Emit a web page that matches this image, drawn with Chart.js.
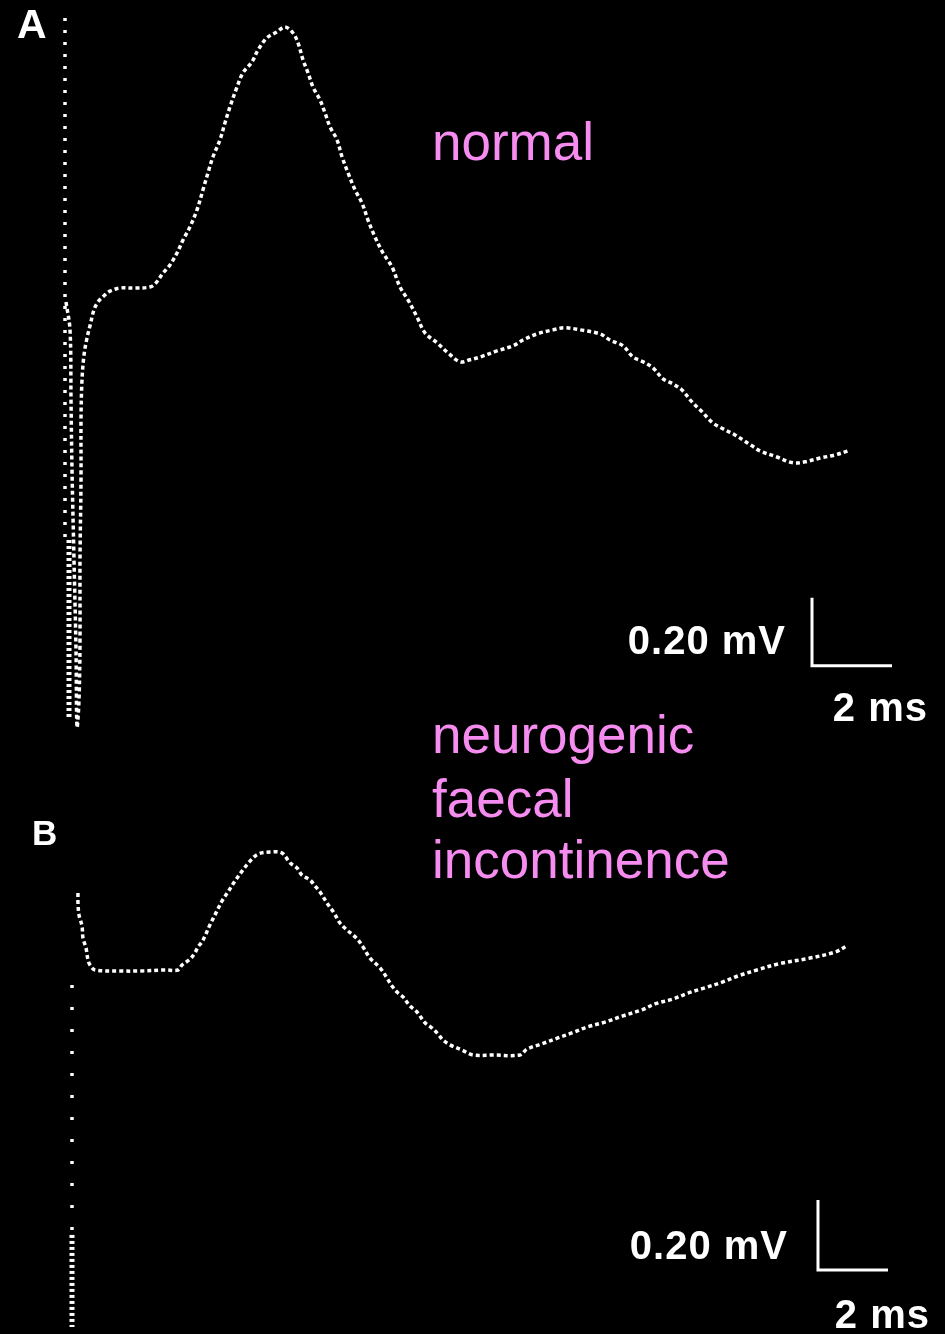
<!DOCTYPE html>
<html>
<head>
<meta charset="utf-8">
<script src="https://cdn.jsdelivr.net/npm/chart.js@4.4.1/dist/chart.umd.min.js"></script>
<style>
  html, body { margin: 0; padding: 0; background: #000; }
  #wrap { position: relative; width: 945px; height: 1334px; }
</style>
</head>
<body>
<div id="wrap"><canvas id="emg"></canvas></div>
<script>
// Trace A (normal) : time in ms after stimulus, amplitude in mV
const timeA = [0.025, 0.125, 0.15, 0.175, 0.225, 0.275, 0.3, 0.35, 0.375, 0.375, 0.4, 0.4, 0.425, 0.475, 0.55, 0.625, 0.725, 0.825, 0.975, 1.125,
  1.375, 1.75, 2.125, 2.275, 2.45, 2.625, 2.8, 2.95, 3.125, 3.3, 3.45, 3.575, 3.7, 3.875, 4.0, 4.125, 4.3, 4.45, 4.675, 4.825,
  5.05, 5.3, 5.5, 5.7, 5.825, 5.95, 6.075, 6.2, 6.375, 6.5, 6.625, 6.8, 6.925, 7.075, 7.25, 7.425, 7.575, 7.75, 7.95, 8.175,
  8.375, 8.575, 8.8, 9.0, 9.3, 9.55, 9.875, 10.125, 10.375, 10.8, 11.2, 11.45, 11.8, 12.2, 12.5, 12.875, 13.375, 13.625, 13.95, 14.2,
  14.45, 14.7, 14.95, 15.2, 15.425, 15.675, 15.925, 16.2, 16.45, 16.75, 16.95, 17.175, 17.375, 17.8, 18.2, 18.5, 18.875, 19.25, 19.575];
const mvA = [-0.006, -0.088, -0.294, -0.5, -0.765, -1.029, -1.256, -1.176, -1.0, -0.765, -0.529, -0.353, -0.235, -0.162, -0.112, -0.076, -0.029, -0.006, 0.012, 0.026,
  0.035, 0.035, 0.038, 0.05, 0.079, 0.103, 0.138, 0.176, 0.215, 0.265, 0.324, 0.374, 0.421, 0.471, 0.521, 0.568, 0.626, 0.668, 0.7, 0.735,
  0.771, 0.788, 0.803, 0.785, 0.756, 0.706, 0.668, 0.626, 0.588, 0.55, 0.509, 0.471, 0.421, 0.374, 0.324, 0.285, 0.235, 0.185, 0.138, 0.097,
  0.038, 0.0, -0.05, -0.097, -0.126, -0.153, -0.182, -0.176, -0.168, -0.15, -0.135, -0.118, -0.1, -0.088, -0.082, -0.088, -0.1, -0.118, -0.135, -0.168,
  -0.182, -0.2, -0.232, -0.247, -0.265, -0.3, -0.329, -0.362, -0.379, -0.397, -0.412, -0.429, -0.444, -0.462, -0.479, -0.476, -0.465, -0.456, -0.444];

// Trace B (neurogenic faecal incontinence)
const timeB = [0.371, 0.371, 0.4, 0.486, 0.514, 0.6, 0.657, 0.714, 0.857, 1.571, 2.143, 2.857, 3.229, 3.343, 3.571, 3.714, 3.8, 3.914, 4.0, 4.143,
  4.314, 4.486, 4.657, 4.857, 5.086, 5.286, 5.514, 5.857, 6.2, 6.429, 6.629, 6.771, 7.0, 7.143, 7.286, 7.486, 7.686, 7.857, 8.057, 8.229,
  8.371, 8.514, 8.714, 9.0, 9.2, 9.343, 9.486, 9.657, 9.857, 10.057, 10.286, 10.486, 10.657, 10.8, 11.0, 11.343, 11.657, 12.229, 13.0, 13.2,
  13.629, 14.086, 14.486, 14.914, 15.429, 15.943, 16.486, 16.857, 17.371, 17.8, 18.286, 18.8, 19.229, 19.771, 20.371, 21.286, 22.0, 22.343];
const mvB = [0.22, 0.191, 0.157, 0.126, 0.091, 0.063, 0.029, 0.014, 0.0, -0.003, -0.003, 0.0, 0.0, 0.014, 0.031, 0.049, 0.066, 0.08, 0.097, 0.129,
  0.163, 0.197, 0.223, 0.254, 0.286, 0.311, 0.331, 0.337, 0.334, 0.306, 0.291, 0.271, 0.257, 0.24, 0.223, 0.191, 0.163, 0.134, 0.114, 0.1,
  0.086, 0.066, 0.034, 0.006, -0.023, -0.046, -0.063, -0.077, -0.103, -0.12, -0.151, -0.166, -0.183, -0.2, -0.214, -0.229, -0.243, -0.243, -0.243, -0.226,
  -0.211, -0.194, -0.18, -0.163, -0.149, -0.131, -0.114, -0.097, -0.083, -0.066, -0.051, -0.034, -0.017, 0.0, 0.017, 0.034, 0.051, 0.069];

// stimulus artefact columns : [time, top mV, change of density mV, bottom mV]
const artefactA = [0, 0.829, -0.706, -1.235];
const artefactB = [0.2, -0.043, -0.757, -1.02];

// calibration bars
const calMv = 0.2;
const calMs = 2;
const calOriginA = [18.675, -1.076];
const calOriginB = [21.514, -0.857];

const panelLabels = ['A', 'B'];
const groupLabels = [['normal'], ['neurogenic', 'faecal', 'incontinence']];
const calLabels = ['0.20 mV', '2 ms'];

function toPoints(xs, ys) {
    let pts = [];
    for (let i = 0; i < xs.length; i++) {
        pts.push({x: xs[i], y: ys[i]});
    }
    return pts;
}

function calBar(origin) {
    return [
        {x: origin[0], y: origin[1] + calMv},
        {x: origin[0], y: origin[1]},
        {x: origin[0] + calMs, y: origin[1]}
    ];
}

const dotted = {
    showLine: true,
    borderColor: '#fff',
    borderWidth: 3.5,
    borderDash: [4, 3],
    borderCapStyle: 'butt',
    pointRadius: 0,
    tension: 0.35
};

const datasets = [
    Object.assign({}, dotted, {label: 'A', data: toPoints(timeA, mvA), xAxisID: 'xA', yAxisID: 'yA'}),
    Object.assign({}, dotted, {label: 'B', data: toPoints(timeB, mvB), xAxisID: 'xB', yAxisID: 'yB'}),
    // artefact columns: sparse part then dense part
    Object.assign({}, dotted, {data: [{x: artefactA[0], y: artefactA[1]}, {x: artefactA[0], y: artefactA[2]}], borderDash: [3, 9], borderWidth: 3.5, tension: 0, xAxisID: 'xA', yAxisID: 'yA'}),
    Object.assign({}, dotted, {data: [{x: artefactA[0] + 0.1, y: artefactA[2]}, {x: artefactA[0] + 0.1, y: artefactA[3]}], borderDash: [3, 3], borderWidth: 5, tension: 0, xAxisID: 'xA', yAxisID: 'yA'}),
    Object.assign({}, dotted, {data: [{x: artefactB[0], y: artefactB[1]}, {x: artefactB[0], y: artefactB[2]}], borderDash: [3, 19], borderWidth: 3.5, tension: 0, xAxisID: 'xB', yAxisID: 'yB'}),
    Object.assign({}, dotted, {data: [{x: artefactB[0], y: artefactB[2]}, {x: artefactB[0], y: artefactB[3]}], borderDash: [3, 3], borderWidth: 5, tension: 0, xAxisID: 'xB', yAxisID: 'yB'}),
    // calibration
    {data: calBar(calOriginA), showLine: true, borderColor: '#fff', borderWidth: 3, pointRadius: 0, tension: 0, xAxisID: 'xA', yAxisID: 'yA'},
    {data: calBar(calOriginB), showLine: true, borderColor: '#fff', borderWidth: 3, pointRadius: 0, tension: 0, xAxisID: 'xB', yAxisID: 'yB'}
];

// texts drawn on top of the traces
const textPlugin = {
    id: 'texts',
    afterDraw(chart) {
        const ctx = chart.ctx;
        ctx.save();
        ctx.textBaseline = 'alphabetic';
        ctx.textAlign = 'left';
        ctx.fillStyle = '#fff';
        ctx.font = 'bold 41px "Liberation Sans", Arial, sans-serif';
        ctx.fillText(panelLabels[0], 17, 38);
        ctx.font = 'bold 35px "Liberation Sans", Arial, sans-serif';
        ctx.fillText(panelLabels[1], 32, 845);

        ctx.fillStyle = '#f68cf0';
        ctx.font = '53px "Liberation Sans", Arial, sans-serif';
        ctx.fillText(groupLabels[0][0], 432, 160);
        const lines = [753, 817, 878];
        for (let i = 0; i < groupLabels[1].length; i++) {
            ctx.fillText(groupLabels[1][i], 432, lines[i]);
        }

        ctx.fillStyle = '#fff';
        ctx.font = 'bold 40px "Liberation Sans", Arial, sans-serif';
        ctx.letterSpacing = '1px';
        ctx.textAlign = 'right';
        ctx.fillText(calLabels[0], 786, 654);
        ctx.fillText(calLabels[1], 928, 721);
        ctx.fillText(calLabels[0], 788, 1259);
        ctx.fillText(calLabels[1], 930, 1328);
        ctx.restore();
    }
};

window.addEventListener('load', (event) => {
    const chart = new Chart(document.getElementById('emg'), {
        type: 'scatter',
        data: {datasets: datasets},
        plugins: [textPlugin],
        options: {
            responsive: true,
            maintainAspectRatio: false,
            animation: false,
            layout: {padding: 0},
            plugins: {legend: {display: false}, tooltip: {enabled: false}},
            scales: {
                xA: {type: 'linear', display: false, min: -1.625, max: 22},
                yA: {type: 'linear', display: false, min: -3.041, max: 0.882},
                xB: {type: 'linear', display: false, min: -1.857, max: 25.143},
                yB: {type: 'linear', display: false, min: -1.04, max: 2.771}
            }
        }
    });
});
</script>
</body>
</html>
